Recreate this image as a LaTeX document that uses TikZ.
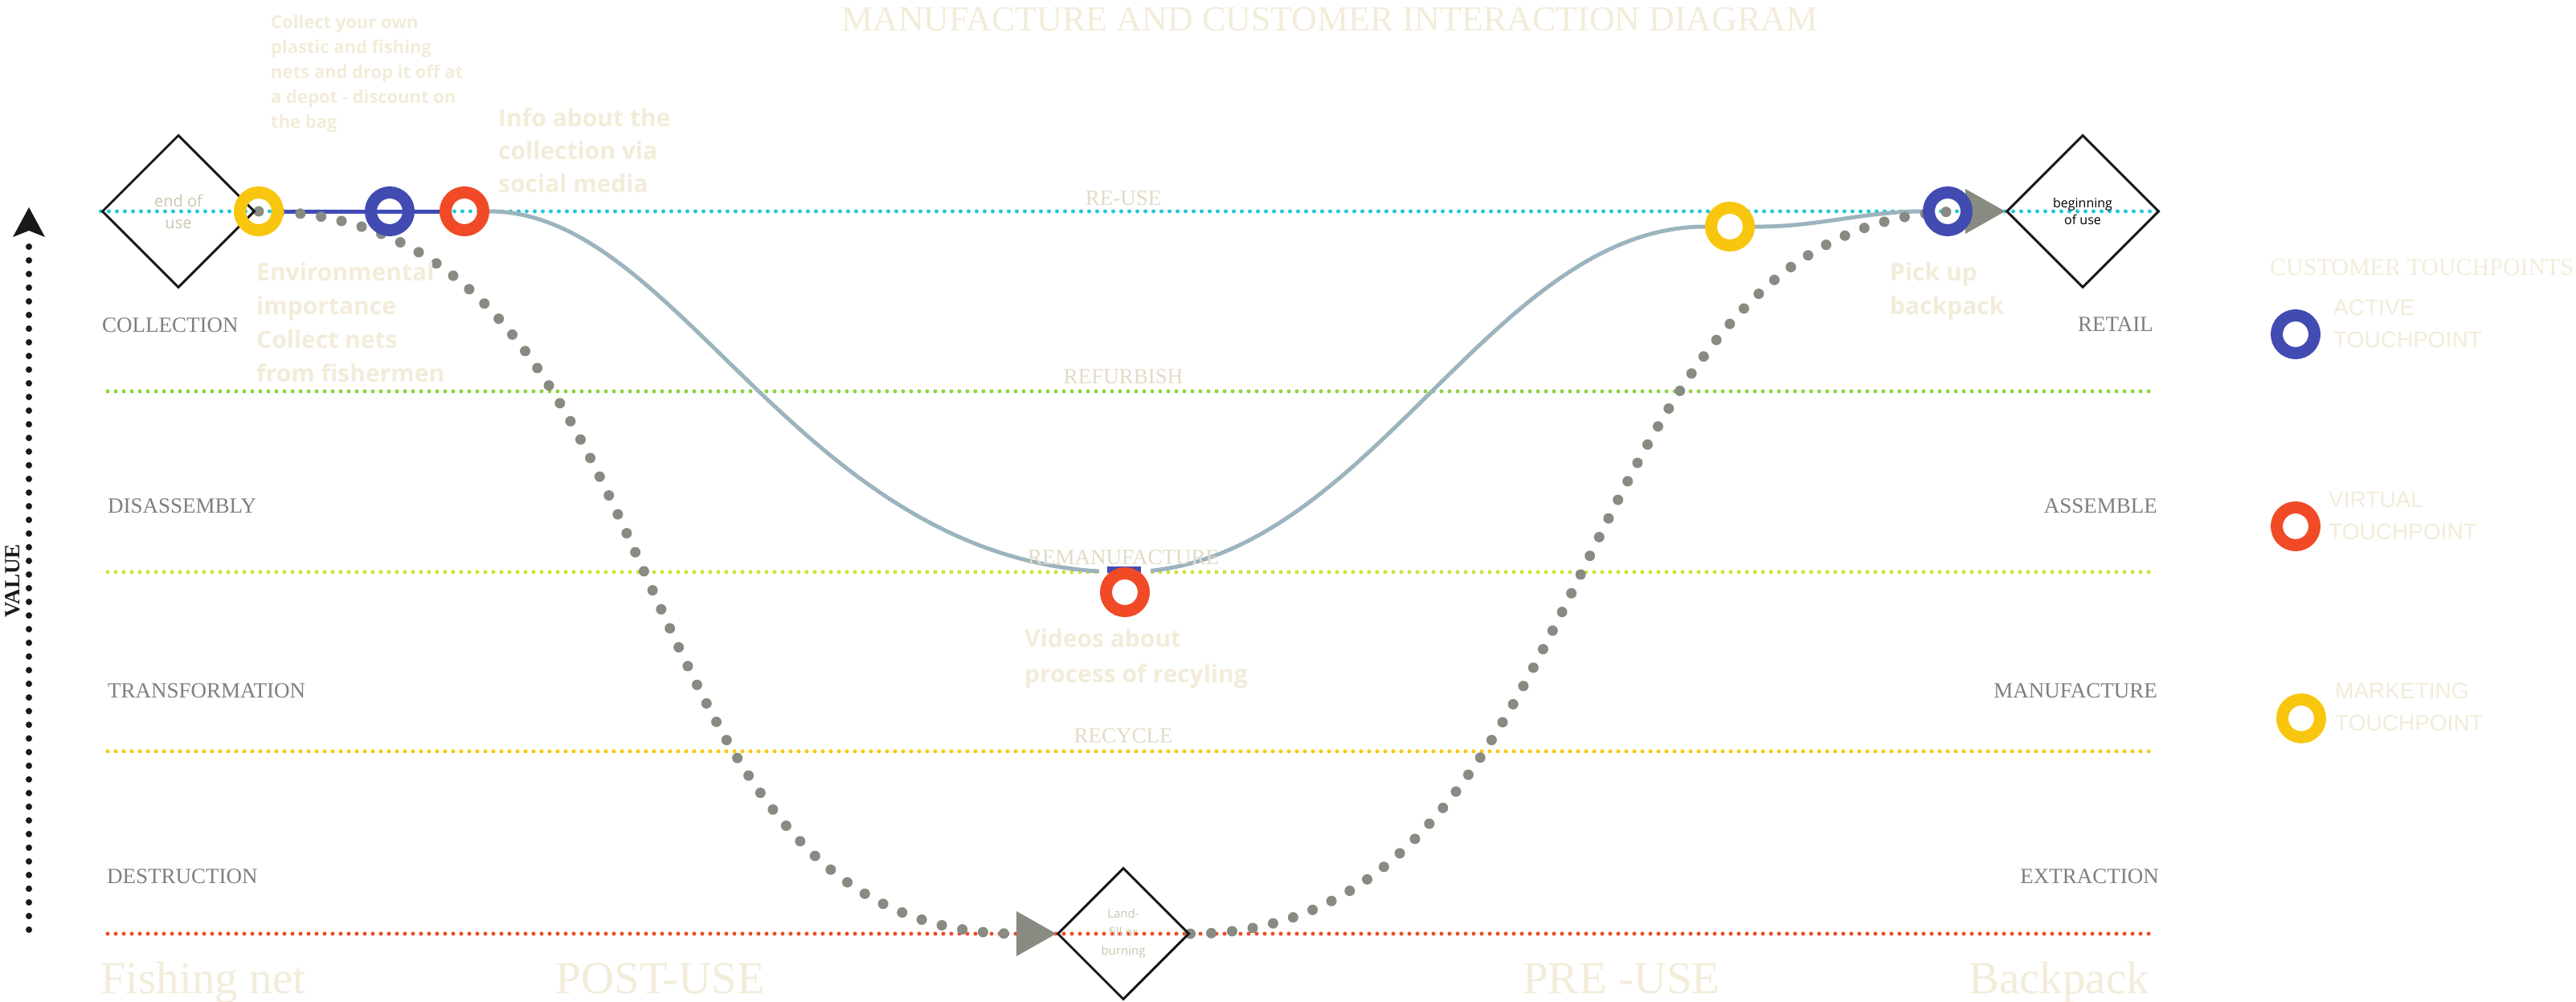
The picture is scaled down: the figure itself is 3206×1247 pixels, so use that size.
\documentclass[tikz,border=0pt]{standalone}
\usepackage{fontspec}
\setmainfont{Liberation Serif}
\newfontfamily\osans{Open Sans}
\newfontfamily\lsans{Liberation Sans}
\usetikzlibrary{shapes.geometric,calc}
\pgfdeclarelayer{back}
\pgfdeclarelayer{bg}
\pgfsetlayers{back,bg,main}
\definecolor{cyanC}{HTML}{1CC9D3}
\definecolor{greenC}{HTML}{8CD23E}
\definecolor{limeC}{HTML}{CDE23A}
\definecolor{yelC}{HTML}{F8C60E}
\definecolor{redC}{HTML}{F04A27}
\definecolor{bluC}{HTML}{414BB2}
\definecolor{grayC}{HTML}{878B81}
\definecolor{steelC}{HTML}{9BB4BD}
\definecolor{creamC}{HTML}{F2ECD9}
\definecolor{labC}{HTML}{E2DBC6}
\definecolor{stageC}{HTML}{7F7F7F}
\definecolor{dlabC}{HTML}{CCC5B0}
\newcommand{\myfs}[2]{\fontsize{#1}{#2}\selectfont}
\begin{document}
\begin{tikzpicture}[x=1pt,y=-1pt,
  hline/.style={line width=5pt, dash pattern=on 0pt off 10pt, line cap=round},
  ring/.style={circle, draw=#1, line width=15pt, minimum size=47pt, inner sep=0pt},
  dia/.style={diamond, draw=black!90, line width=3pt, minimum width=#1, minimum height=#1, inner sep=0pt, shape aspect=1},
  gdots/.style={draw=grayC, line width=13pt, dash pattern=on 0pt off 26pt, line cap=round},
  vdots/.style={draw=black!90, line width=8pt, dash pattern=on 0pt off 17pt, line cap=round},
  steel/.style={draw=steelC, line width=5pt},
  blueline/.style={draw=bluC, line width=5pt},
  stagelab/.style={text=stageC, font=\myfs{27}{32}, inner sep=0pt},
  linelab/.style={text=labC, font=\myfs{27}{32}, inner sep=0pt, anchor=base},
  tptext/.style={text=creamC, inner sep=0pt, anchor=north west, align=left},
  bottomlab/.style={text=creamC, font=\myfs{57}{60}, inner sep=0pt},
  legtext/.style={text=creamC, font=\lsans\myfs{28}{40}, inner sep=0pt, anchor=north west, align=left}
]
\useasboundingbox (0,0) rectangle (3206,1247);
\begin{pgfonlayer}{back}
\fill[white] (0,0) rectangle (3206,1247);
\end{pgfonlayer}

% diamonds
\node[dia=190pt, text=dlabC, font=\osans\myfs{20}{27}, align=center] (eou) at (222,263) {end of\\use};
\node[dia=190pt, text=black, font=\osans\myfs{16}{21}, align=center] (bou) at (2592,263) {beginning\\of use};
\node[dia=164pt, text=dlabC, font=\osans\myfs{15}{23}, align=center] (lf) at (1398,1162) {Land-\\fill or\\burning};

% rings
\node[ring=yelC] (y1) at (322,263) {};
\node[ring=bluC] (b1) at (485,263) {};
\node[ring=redC] (r1) at (578,263) {};
\node[ring=redC] (r2) at (1400,737) {};
\node[ring=yelC, fill=white] (y2) at (2153,282) {};
\node[ring=bluC] (b2) at (2424,263) {};
\node[ring=bluC] (lgb) at (2857,416) {};
\node[ring=redC] (lgr) at (2857,655) {};
\node[ring=yelC] (lgy) at (2864,894) {};

\coordinate (rmtop) at (1400,712);
\coordinate (lab) at (1265,1162);
\coordinate (bab) at (2446,263);
\coordinate (vbot) at (36,1157);
\coordinate (vtop) at (36,258);

\begin{pgfonlayer}{bg}
\draw[hline, cyanC] (eou.west) -- (bou.east);
\draw[hline, greenC] (134,487) -- (2680,487);
\draw[hline, limeC] (134,712) -- (2680,712);
\draw[hline, yelC] (134,935) -- (2680,935);
\draw[hline, redC] (134,1162) -- (2680,1162);
\draw[steel] (r1.east) .. controls (850,263) and (1000,712) .. (rmtop) .. controls (1700,712) and (1850,283) .. (y2.west);
\draw[steel] (y2.east) .. controls (2260,283) and (2320,263) .. (b2.west);
\draw[blueline] (y1.east) -- (r1.west);
\fill[white] (1368,703) rectangle (1432,721);
\fill[bluC] (1378,705) rectangle (1420,713);
\draw[gdots] (y1.center) .. controls (870,263) and (740,1162) .. (lab);
\fill[grayC] ($(lab)+(0,-28)$) -- (lf.west) -- ($(lab)+(0,28)$) -- cycle;
\draw[gdots] (lf.east) .. controls (2008,1162) and (1932,263) .. (bab);
\fill[grayC] ($(bab)+(0,-28)$) -- (bou.west) -- ($(bab)+(0,28)$) -- cycle;
\draw[vdots] (vbot) -- ($(vtop)+(0,34)$);
\fill[black!90] (vtop) -- ++(20,37) -- ++(-20,-8) -- ++(-20,8) -- cycle;
\end{pgfonlayer}

% title
\node[anchor=base, text=creamC, font=\myfs{44}{50}, inner sep=0pt] (title) at (1655,39) {MANUFACTURE AND CUSTOMER INTERACTION DIAGRAM};

% value axis label
\node[rotate=90, font=\bfseries\myfs{27}{30}, text=black!90, inner sep=0pt] (val) at (16,723) {VALUE};

% stage labels
\node[stagelab, anchor=base west] (s1) at (127,413) {COLLECTION};
\node[stagelab, anchor=base west] (s2) at (134,638) {DISASSEMBLY};
\node[stagelab, anchor=base west] (s3) at (134,868) {TRANSFORMATION};
\node[stagelab, anchor=base west] (s4) at (133,1099) {DESTRUCTION};
\node[stagelab, anchor=base east] (s5) at (2680,412) {RETAIL};
\node[stagelab, anchor=base east] (s6) at (2685,638) {ASSEMBLE};
\node[stagelab, anchor=base east] (s7) at (2685,868) {MANUFACTURE};
\node[stagelab, anchor=base east] (s8) at (2687,1099) {EXTRACTION};

% line labels
\node[linelab] (l1) at (1398,255) {RE-USE};
\node[linelab] (l2) at (1398,477) {REFURBISH};
\node[linelab] (l3) at (1398,702) {REMANUFACTURE};
\node[linelab] (l4) at (1398,924) {RECYCLE};

% touchpoint texts
\node[tptext, font=\osans\bfseries\myfs{22}{31}] (t1) at (337,19) {Collect your own\\plastic and fishing\\nets and drop it off at\\a depot - discount on\\the bag};
\node[tptext, font=\osans\bfseries\myfs{30}{41}] (t2) at (620,134) {Info about the\\collection via\\social media};
\node[tptext, font=\osans\bfseries\myfs{30}{42}] (t3) at (319,327) {Environmental\\importance\\Collect nets\\from fishermen};
\node[tptext, font=\osans\bfseries\myfs{30}{44}] (t4) at (1275,782) {Videos about\\process of recyling};
\node[tptext, font=\osans\bfseries\myfs{30}{42}] (t5) at (2352,327) {Pick up\\backpack};

% bottom labels
\node[bottomlab, anchor=base west] (fn) at (125,1236) {Fishing net};
\node[bottomlab, anchor=base] (post) at (822,1236) {POST-USE};
\node[bottomlab, anchor=base] (pre) at (2018,1236) {PRE -USE};
\node[bottomlab, anchor=base east] (bp) at (2675,1236) {Backpack};

% legend
\node[anchor=base west, text=creamC, font=\myfs{30}{34}, inner sep=0pt] (lt) at (2825,342) {CUSTOMER TOUCHPOINTS};
\node[legtext] (la) at (2904,373) {ACTIVE\\TOUCHPOINT};
\node[legtext] (lv) at (2898,612) {VIRTUAL\\TOUCHPOINT};
\node[legtext] (lm) at (2906,850) {MARKETING\\TOUCHPOINT};
\end{tikzpicture}
\end{document}
